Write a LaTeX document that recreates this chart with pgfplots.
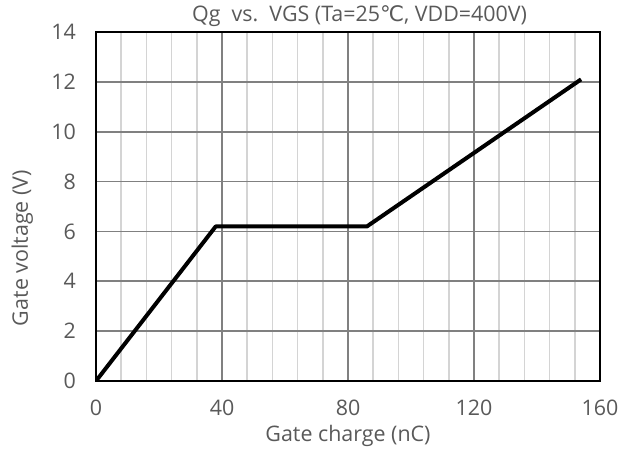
\documentclass[border=0pt]{standalone}
\usepackage{fontspec}
\setmainfont{Open Sans}
\newfontfamily\dejavu{DejaVu Sans}
\usepackage{pgfplots}
\pgfplotsset{compat=1.18}

\definecolor{txt}{HTML}{595959}
\definecolor{majgrid}{HTML}{808080}
\definecolor{mingrid}{HTML}{D4D4D4}

\begin{document}
\begin{tikzpicture}
\begin{axis}[
    scale only axis,
    width=504bp, height=349bp,
    xmin=0, xmax=160, ymin=0, ymax=14,
    xtick={0,40,80,120,160},
    ytick={0,2,...,14},
    minor x tick num=4,
    grid=both,
    major grid style={majgrid, line width=1.6bp},
    minor grid style={mingrid, line width=1.6bp},
    minor y tick num=0,
    major tick length=0pt, minor tick length=0pt,
    axis line style={black, line width=1.6bp},
    font=\fontsize{21.5}{25}\selectfont,
    tick label style={txt, font=\fontsize{21.5}{25}\selectfont},
    /pgf/number format/assume math mode=true,
    xticklabel style={anchor=base, yshift=-34bp},
    yticklabel style={anchor=east, inner sep=0pt, xshift=-20bp},
    xlabel={Gate charge (nC)},
    ylabel={Gate voltage (V)},
    xlabel style={txt, at={(axis description cs:0.5,-0.172)}, anchor=base},
    ylabel style={txt, at={(axis description cs:-0.135,0.381)}, anchor=base},
    title={Qg\ \ vs.\ \ VGS (Ta=25{\dejavu ℃}, VDD=400V)},
    title style={txt, at={(axis description cs:0.523,1)}, anchor=base, yshift=5bp},
]
\addplot[black, line width=4bp, line join=round] coordinates {
    (0,0) (38,6.2) (86,6.2) (154,12.1)
};
\end{axis}
\pgfresetboundingbox
\path (current axis.south west) ++(-96bp,-70bp) coordinate (a);
\path (current axis.north east) ++(19bp,32bp) coordinate (b);
\path[use as bounding box] (a) rectangle (b);
\end{tikzpicture}
\end{document}
